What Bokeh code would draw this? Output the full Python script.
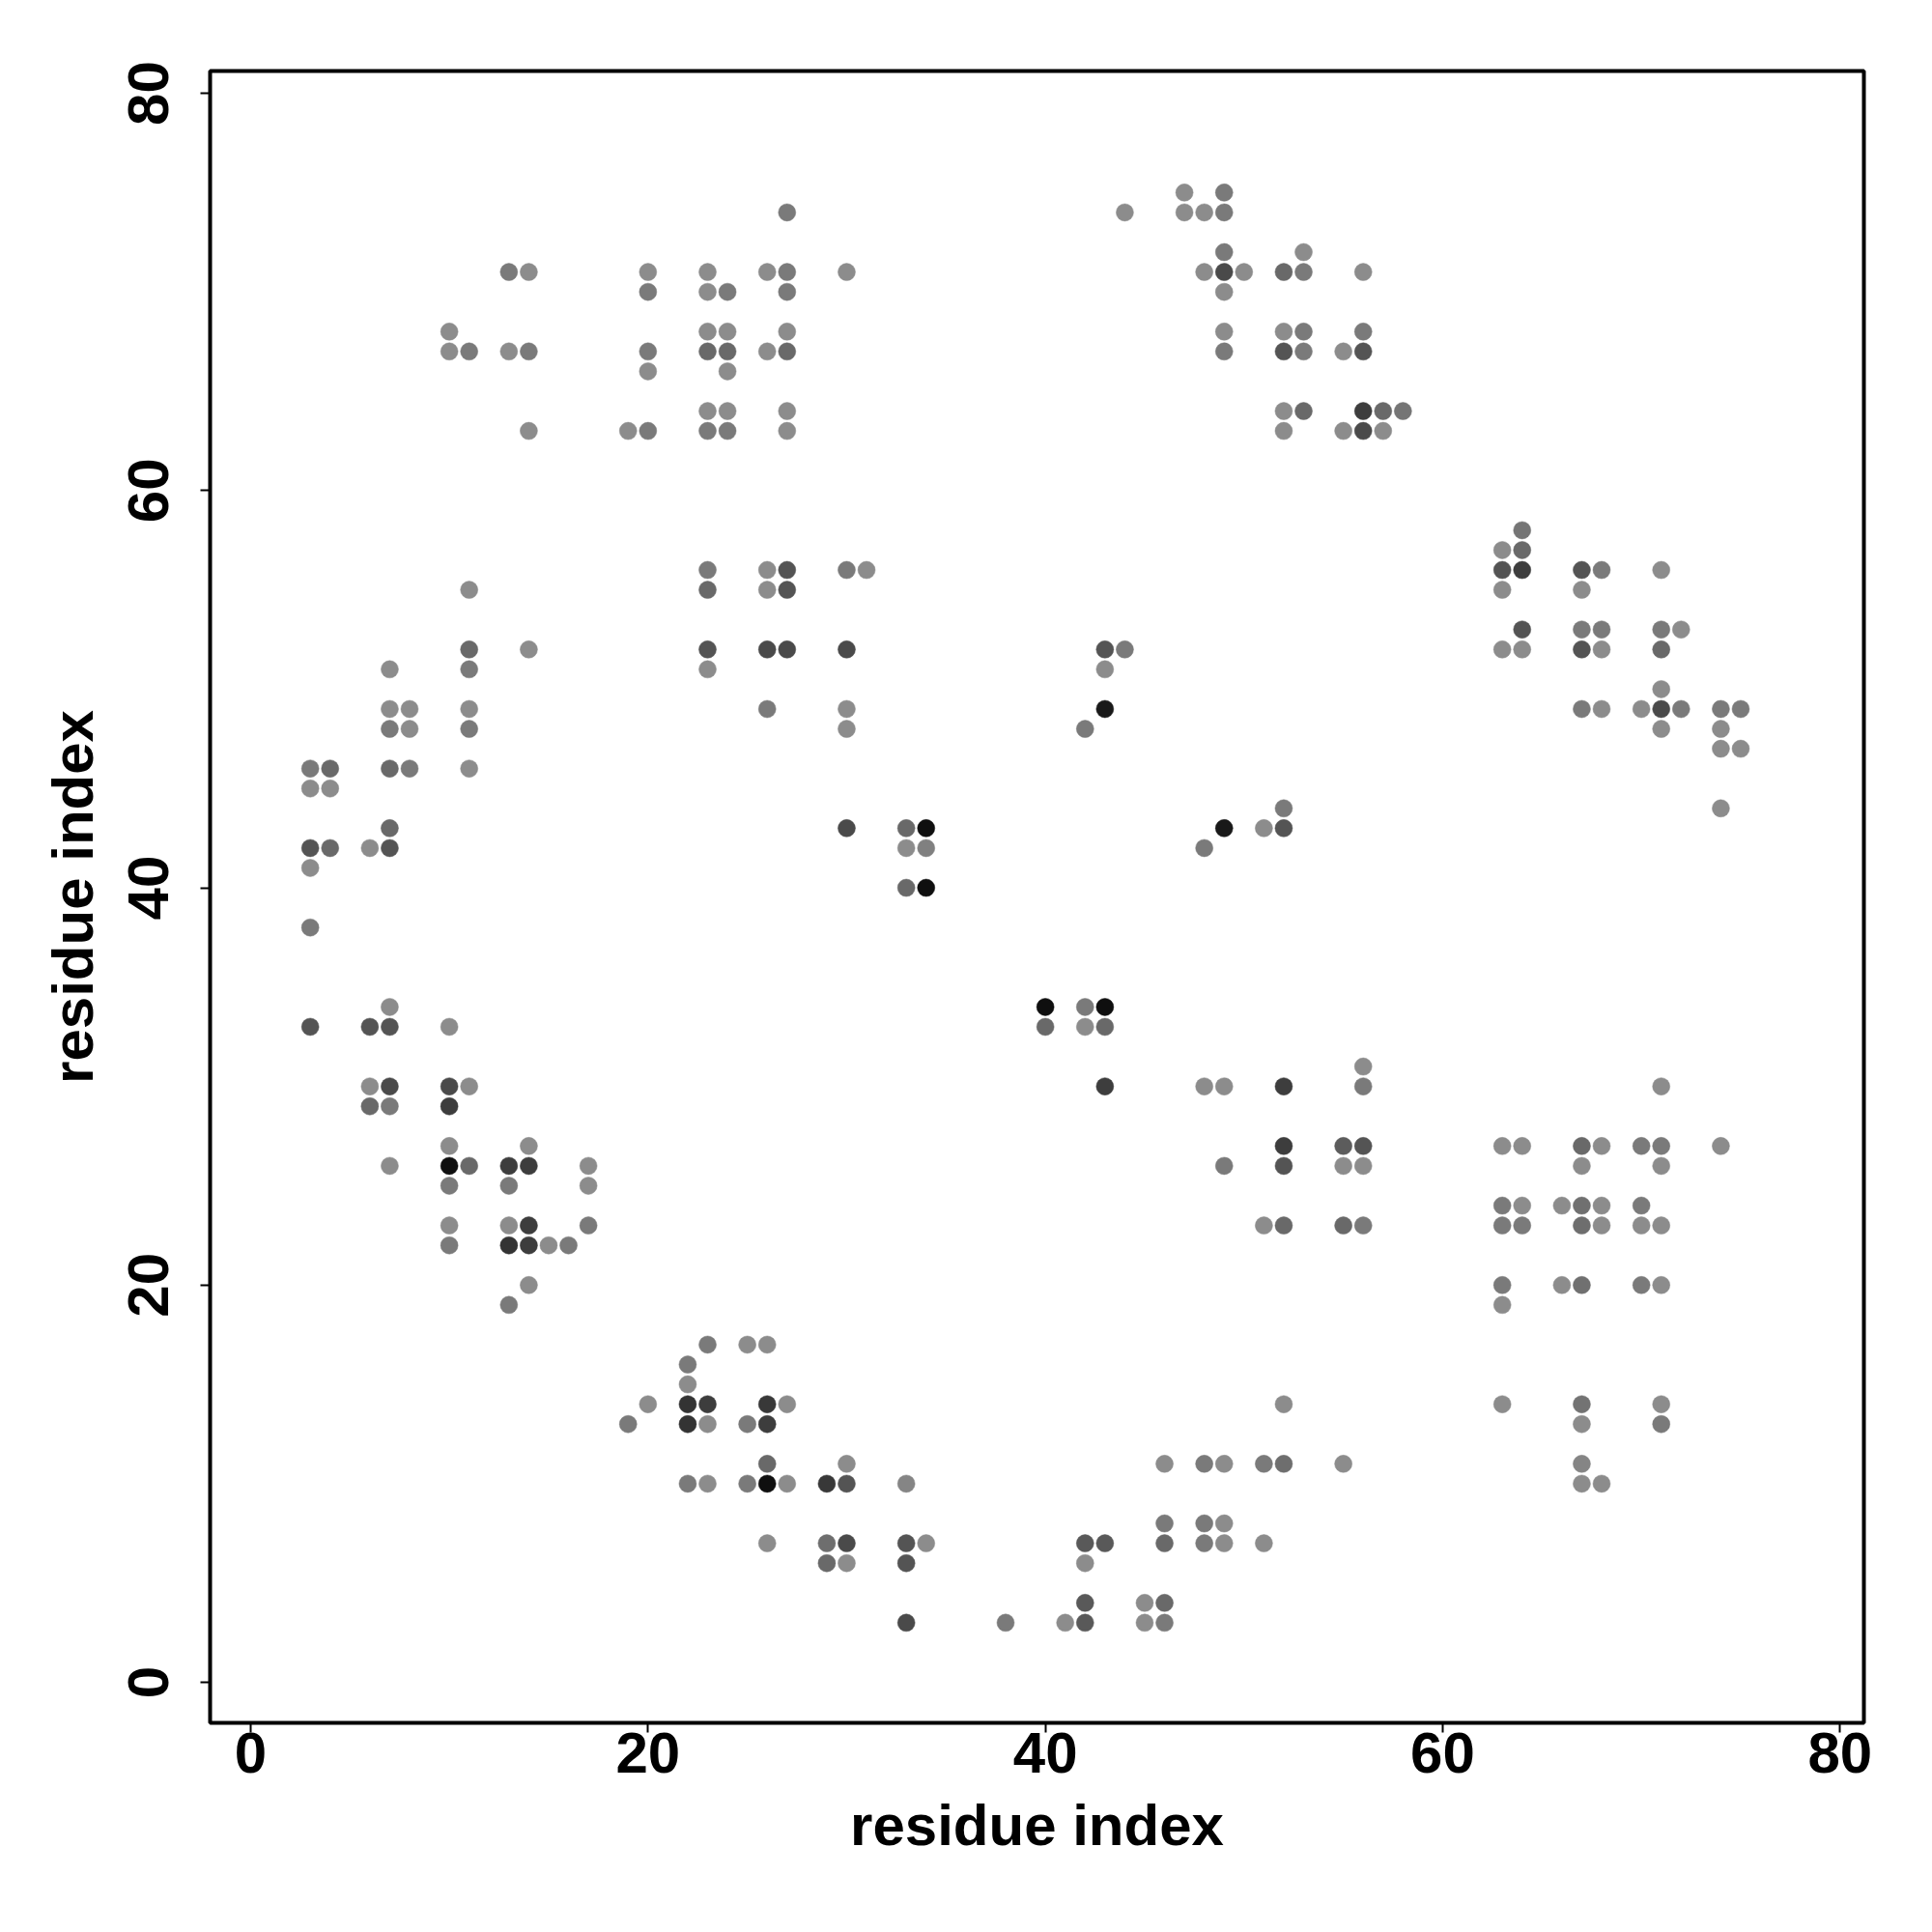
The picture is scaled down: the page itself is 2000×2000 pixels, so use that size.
from bokeh.plotting import figure
from bokeh.models import Range1d, FixedTicker, ColumnDataSource
from bokeh.embed import file_html
from bokeh.resources import INLINE

# Contact map: residue i, residue j, contact score (darker = higher)
res_i = [
    3, 4, 3, 4, 3, 4, 6, 7, 7, 3, 3, 3,
    7, 7, 8, 7, 8, 7, 8,
    11, 11, 11, 11, 11, 11, 14,
    7, 6, 7, 10,
    6, 7, 10, 11, 6, 7, 10,
    10, 14, 7, 10, 11, 13, 14, 17,
    10, 13, 17, 10, 13, 14, 17,
    10, 13, 14, 15, 16, 14, 13,
    10, 10, 11, 13, 14, 13, 14, 14, 19, 20, 20, 20, 20, 20,
    23, 23, 24, 23, 24, 23, 24, 24, 23, 24, 23, 24,
    26, 27, 27, 27, 27, 26, 27, 27, 27, 30,
    23, 23, 26, 27, 26, 27, 23, 23, 26, 27, 26, 30, 31, 30, 30, 30,
    30, 33, 34, 33, 34, 33, 34,
    43, 44, 43, 43, 42,
    49, 48, 51, 52, 52,
    40, 40, 42, 43, 42, 43, 43,
    44, 47, 49, 47, 48, 49, 49, 48, 49, 50, 49, 49, 49,
    52, 53, 53, 52, 53, 52, 53, 55, 56, 56, 56,
    52, 53, 52, 55, 56, 57, 58, 56, 57,
    64, 63, 64, 63, 64, 63, 67, 68, 67, 71,
    64, 63, 64, 67, 68, 67, 68, 71, 72, 71,
    71, 67, 68, 70, 71, 72, 71, 74, 75, 74, 74, 75, 74,
    48, 49, 49, 52, 52, 52, 51, 52, 55, 56, 55, 56, 55, 56, 56, 56,
    63, 64, 67, 68, 70, 71, 74, 67, 71, 71,
    63, 64, 66, 67, 68, 70,
    63, 64, 67, 68, 70, 71,
    63, 63, 66, 67, 70, 71,
    63, 67, 67, 71, 71, 67, 67, 68,
    19, 20, 22, 22, 22, 23, 22, 23, 23, 25, 26, 25, 26, 26, 27,
    22, 23, 25, 26, 27, 26, 26,
    29, 30, 30, 29, 30, 29, 30, 33, 33, 34, 33, 33,
    38, 41, 42, 42, 42, 42, 43, 45, 46, 45, 46, 46, 46, 46, 48, 49, 48, 49, 48, 49,
    51, 52, 51, 52, 55,
]
res_j = [
    46, 46, 45, 45, 42, 42, 42, 43, 42, 41, 38, 33,
    51, 49, 49, 48, 48, 46, 46,
    55, 52, 51, 49, 48, 46, 52,
    34, 33, 33, 33,
    30, 30, 30, 30, 29, 29, 29,
    27, 27, 26, 26, 26, 26, 26, 26,
    25, 25, 25, 23, 23, 23, 23,
    22, 22, 22, 22, 22, 20, 19,
    68, 67, 67, 71, 71, 67, 67, 63, 63, 63, 71, 70, 67, 66,
    71, 70, 70, 68, 68, 67, 67, 66, 64, 64, 63, 63,
    71, 71, 70, 74, 68, 67, 67, 64, 63, 71,
    56, 55, 56, 56, 55, 55, 52, 51, 52, 52, 49, 56, 56, 52, 49, 48,
    43, 43, 43, 42, 42, 40, 40,
    52, 52, 51, 49, 48,
    43, 42, 43, 43, 44,
    34, 33, 34, 34, 33, 33, 30,
    74, 75, 75, 74, 74, 74, 72, 71, 71, 71, 70, 68, 67,
    71, 71, 72, 68, 68, 67, 67, 67, 68, 67, 71,
    64, 64, 63, 63, 64, 64, 64, 63, 63,
    58, 57, 57, 56, 56, 55, 56, 56, 55, 56,
    53, 52, 52, 53, 53, 52, 52, 53, 53, 52,
    50, 49, 49, 49, 49, 49, 48, 49, 49, 48, 47, 47, 44,
    30, 30, 26, 30, 27, 26, 23, 23, 27, 27, 26, 26, 23, 23, 31, 30,
    27, 27, 27, 27, 27, 27, 27, 26, 26, 30,
    24, 24, 24, 24, 24, 24,
    23, 23, 23, 23, 23, 23,
    20, 19, 20, 20, 20, 20,
    14, 14, 13, 14, 13, 11, 10, 10,
    13, 14, 16, 15, 14, 14, 13, 13, 17, 17, 17, 13, 14, 13, 14,
    10, 10, 10, 10, 10, 11, 7,
    10, 10, 11, 7, 7, 6, 6, 10, 7, 7, 6, 3,
    3, 3, 3, 4, 6, 7, 7, 4, 4, 3, 3, 7, 8, 11, 11, 11, 8, 8, 7, 7,
    11, 11, 7, 14, 11,
]
score = [
    0.52, 0.59, 0.45, 0.45, 0.67, 0.59, 0.45, 0.59, 0.67, 0.45, 0.52, 0.67,
    0.45, 0.45, 0.45, 0.52, 0.45, 0.59, 0.52,
    0.45, 0.59, 0.52, 0.45, 0.52, 0.45, 0.45,
    0.45, 0.67, 0.67, 0.45,
    0.45, 0.71, 0.71, 0.45, 0.59, 0.52, 0.76,
    0.45, 0.45, 0.45, 0.94, 0.59, 0.76, 0.76, 0.45,
    0.52, 0.52, 0.45, 0.45, 0.45, 0.76, 0.52,
    0.52, 0.80, 0.76, 0.45, 0.52, 0.45, 0.52,
    0.45, 0.45, 0.52, 0.52, 0.45, 0.45, 0.52, 0.45, 0.45, 0.52, 0.45, 0.52, 0.52, 0.45,
    0.45, 0.45, 0.52, 0.45, 0.45, 0.59, 0.59, 0.45, 0.45, 0.45, 0.52, 0.52,
    0.45, 0.52, 0.52, 0.52, 0.45, 0.45, 0.59, 0.45, 0.45, 0.45,
    0.52, 0.59, 0.45, 0.67, 0.45, 0.67, 0.67, 0.45, 0.71, 0.71, 0.52, 0.52, 0.45, 0.71, 0.45, 0.45,
    0.71, 0.59, 0.94, 0.45, 0.50, 0.59, 0.94,
    0.67, 0.52, 0.45, 0.90, 0.52,
    0.90, 0.52, 0.45, 0.67, 0.52,
    0.94, 0.59, 0.52, 0.94, 0.45, 0.59, 0.76,
    0.45, 0.45, 0.52, 0.45, 0.45, 0.52, 0.52, 0.45, 0.71, 0.45, 0.45, 0.45, 0.52,
    0.59, 0.52, 0.45, 0.45, 0.52, 0.67, 0.52, 0.45, 0.52, 0.67, 0.45,
    0.45, 0.59, 0.45, 0.45, 0.76, 0.59, 0.54, 0.71, 0.45,
    0.54, 0.45, 0.59, 0.67, 0.76, 0.45, 0.67, 0.52, 0.45, 0.45,
    0.67, 0.45, 0.45, 0.52, 0.52, 0.67, 0.45, 0.52, 0.45, 0.59,
    0.45, 0.52, 0.45, 0.45, 0.71, 0.52, 0.45, 0.52, 0.52, 0.45, 0.45, 0.45, 0.45,
    0.45, 0.45, 0.52, 0.76, 0.76, 0.67, 0.45, 0.59, 0.64, 0.67, 0.45, 0.45, 0.59, 0.52, 0.45, 0.52,
    0.45, 0.45, 0.59, 0.45, 0.52, 0.52, 0.45, 0.45, 0.45, 0.45,
    0.52, 0.45, 0.45, 0.56, 0.45, 0.52,
    0.52, 0.52, 0.57, 0.45, 0.45, 0.45,
    0.52, 0.45, 0.45, 0.56, 0.52, 0.45,
    0.45, 0.55, 0.45, 0.45, 0.52, 0.48, 0.45, 0.45,
    0.52, 0.45, 0.52, 0.45, 0.80, 0.76, 0.80, 0.45, 0.52, 0.45, 0.45, 0.52, 0.78, 0.76, 0.45,
    0.52, 0.45, 0.52, 0.94, 0.45, 0.59, 0.45,
    0.78, 0.67, 0.45, 0.57, 0.71, 0.59, 0.45, 0.48, 0.67, 0.45, 0.67, 0.71,
    0.52, 0.45, 0.65, 0.65, 0.45, 0.65, 0.65, 0.45, 0.59, 0.45, 0.52, 0.59, 0.52, 0.45, 0.52, 0.45, 0.52, 0.45, 0.52, 0.45,
    0.52, 0.57, 0.45, 0.45, 0.45,
]

ticks = [0, 20, 40, 60, 80]
x_label = "residue index"
y_label = "residue index"


def gray(s):
    g = int(round(255 * (1 - s)))
    return "#%02x%02x%02x" % (g, g, g)


colors = [gray(s) for s in score]
src = ColumnDataSource(dict(x=res_i, y=res_j, c=colors))

p = figure(
    frame_width=1712, frame_height=1710,
    x_range=Range1d(-2.04, 81.2), y_range=Range1d(-2.04, 81.12),
    output_backend="svg", toolbar_location=None,
    min_border_left=217, min_border_top=73, min_border_right=40, min_border_bottom=170,
)
p.background_fill_color = "white"
p.border_fill_color = "white"
p.xgrid.visible = False
p.ygrid.visible = False
p.outline_line_color = "black"
p.outline_line_width = 4

p.scatter("x", "y", source=src, size=18, fill_color="c", line_color="c", line_width=0.5)

FONT = "Liberation Sans"
for ax in (p.xaxis[0], p.yaxis[0]):
    ax.ticker = FixedTicker(ticks=ticks)
    ax.minor_tick_line_color = None
    ax.axis_line_color = None
    ax.major_tick_line_color = "black"
    ax.major_tick_line_width = 2
    ax.major_tick_out = 10
    ax.major_tick_in = 0
    ax.major_label_text_font = FONT
    ax.major_label_text_font_style = "bold"
    ax.major_label_text_font_size = "60px"
    ax.major_label_text_color = "black"
    ax.axis_label_text_font = FONT
    ax.axis_label_text_font_style = "bold"
    ax.axis_label_text_font_size = "60px"
    ax.axis_label_text_color = "black"

p.xaxis.axis_label = x_label
p.yaxis.axis_label = y_label
p.xaxis.major_label_standoff = 0
p.xaxis.axis_label_standoff = 18
p.yaxis.major_label_orientation = "vertical"
p.yaxis.major_label_standoff = 33
p.yaxis.axis_label_standoff = 22

open("out.html", "w").write(file_html(p, INLINE))
